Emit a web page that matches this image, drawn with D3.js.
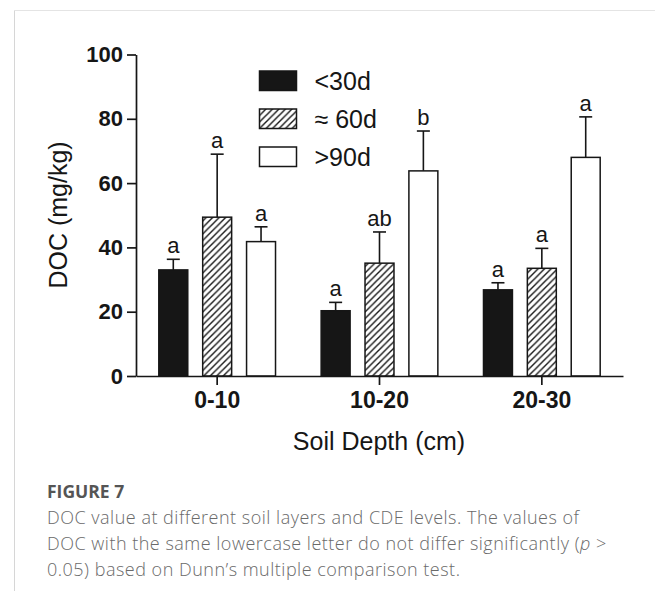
<!DOCTYPE html>
<html>
<head>
<meta charset="utf-8">
<script src="https://cdn.jsdelivr.net/npm/d3@7"></script>
<style>
  body { margin: 0; background: #fff; }
  svg text { font-family: "Liberation Sans", Arial, sans-serif; }
  svg text.cap { font-family: "Open Sans", "Noto Sans", sans-serif; }
</style>
</head>
<body>
<svg id="chart"></svg>
<script>
// data
const categories = ["0-10", "10-20", "20-30"];
const groups = ["<30d", "≈ 60d", ">90d"];
const means = [
  [33.0, 20.3, 26.8],
  [49.4, 35.1, 33.5],
  [41.8, 63.8, 68.0],
];
const errors = [
  [3.3, 2.6, 2.2],
  [19.6, 9.7, 6.2],
  [4.6, 12.4, 12.6],
];
const letters = [
  ["a", "a", "a"],
  ["a", "ab", "a"],
  ["a", "b", "a"],
];
const yTicks = [0, 20, 40, 60, 80, 100];
const captionTitle = "FIGURE 7";
const captionLines = [
  "DOC value at different soil layers and CDE levels. The values of",
  "DOC with the same lowercase letter do not differ significantly (",
  "0.05) based on Dunn\u2019s multiple comparison test.",
];

const width = 655, height = 591;
const ink = "#161616";

const svg = d3.select("#chart").attr("width", width).attr("height", height);

// hatch pattern
const defs = svg.append("defs");
const pat = defs.append("pattern")
  .attr("id", "hatch")
  .attr("patternUnits", "userSpaceOnUse")
  .attr("width", 6.5).attr("height", 6.5);
pat.append("rect").attr("width", 6.5).attr("height", 6.5).attr("fill", "#fff");
pat.append("path")
  .attr("d", "M-1,1 l2,-2 M0,6.5 l6.5,-6.5 M5.5,7.5 l2,-2")
  .attr("stroke", ink).attr("stroke-width", 1.4);

const fills = [ink, "url(#hatch)", "#fff"];

// page frame lines
svg.append("line").attr("x1", 14.5).attr("x2", 14.5).attr("y1", 10).attr("y2", height)
  .attr("stroke", "#d6d6d6");
svg.append("line").attr("x1", 14).attr("x2", width).attr("y1", 10.5).attr("y2", 10.5)
  .attr("stroke", "#e4e4e4");

const x0 = d3.scaleBand().domain(categories).range([136, 623]);
const x1 = d3.scaleBand().domain(groups).range([0, x0.bandwidth()])
  .paddingInner(0.34).paddingOuter(0.52);
const y = d3.scaleLinear().domain([0, 100]).range([376, 54.5]);

// bars
const g = svg.append("g");
groups.forEach((grp, gi) => {
  const sel = g.append("g").selectAll("g").data(categories).enter().append("g")
    .attr("transform", (c) => `translate(${x0(c) + x1(grp)},0)`);
  const bw = x1.bandwidth();
  sel.append("line")
    .attr("x1", bw / 2).attr("x2", bw / 2)
    .attr("y1", (c, i) => y(means[gi][i]))
    .attr("y2", (c, i) => y(means[gi][i] + errors[gi][i]))
    .attr("stroke", ink).attr("stroke-width", 1.6);
  sel.append("line")
    .attr("x1", bw / 2 - 6.5).attr("x2", bw / 2 + 6.5)
    .attr("y1", (c, i) => y(means[gi][i] + errors[gi][i]))
    .attr("y2", (c, i) => y(means[gi][i] + errors[gi][i]))
    .attr("stroke", ink).attr("stroke-width", 1.6);
  sel.append("rect")
    .attr("x", 0).attr("width", bw)
    .attr("y", (c, i) => y(means[gi][i]))
    .attr("height", (c, i) => y(0) - y(means[gi][i]))
    .attr("fill", fills[gi]).attr("stroke", ink).attr("stroke-width", 1.5);
  sel.append("text")
    .attr("x", bw / 2)
    .attr("y", (c, i) => y(means[gi][i] + errors[gi][i]) - 6)
    .attr("text-anchor", "middle")
    .attr("font-size", 22).attr("fill", ink)
    .text((c, i) => letters[gi][i]);
});

// axes
const yAxis = svg.append("g").attr("transform", "translate(136,0)")
  .call(d3.axisLeft(y).tickValues(yTicks).tickSize(9).tickPadding(4).tickSizeOuter(0));
yAxis.selectAll("text").attr("font-size", 22).attr("font-weight", "bold").attr("fill", ink)
  .attr("font-family", "Liberation Sans, Arial, sans-serif");

const xAxis = svg.append("g").attr("transform", "translate(0,376)")
  .call(d3.axisBottom(x0).tickSize(9).tickPadding(7).tickSizeOuter(0));
xAxis.selectAll("text").attr("font-size", 23).attr("font-weight", "bold").attr("fill", ink)
  .attr("font-family", "Liberation Sans, Arial, sans-serif");

[yAxis, xAxis].forEach((ax) => {
  ax.select(".domain").attr("stroke", ink).attr("stroke-width", 1.7);
  ax.selectAll(".tick line").attr("stroke", ink).attr("stroke-width", 1.7);
});

// axis titles
svg.append("text")
  .attr("transform", "translate(66.5,215) rotate(-90)")
  .attr("text-anchor", "middle").attr("font-size", 25).attr("fill", ink)
  .text("DOC (mg/kg)");
svg.append("text")
  .attr("x", 379).attr("y", 449.5)
  .attr("text-anchor", "middle").attr("font-size", 25).attr("fill", ink)
  .text("Soil Depth (cm)");

// legend
const legend = svg.append("g").selectAll("g").data(groups).enter().append("g")
  .attr("transform", (d, i) => `translate(259.5,${71 + i * 38})`);
legend.append("rect")
  .attr("width", 37).attr("height", 19.5)
  .attr("fill", (d, i) => fills[i]).attr("stroke", ink).attr("stroke-width", 1.5);
legend.append("text")
  .attr("x", 55).attr("y", 18.5)
  .attr("font-size", 25).attr("fill", ink)
  .text((d) => d);

// caption
svg.append("text").attr("class", "cap")
  .attr("x", 47).attr("y", 497.5)
  .attr("font-size", 17.5).attr("font-weight", "bold").attr("fill", "#555")
  .text(captionTitle);
const cap = svg.append("g").selectAll("text").data(captionLines).enter().append("text")
  .attr("class", "cap")
  .attr("x", 47).attr("y", (d, i) => 523.5 + i * 26.3)
  .attr("font-size", 18).attr("letter-spacing", 0.5).attr("font-weight", 300).attr("fill", "#6a6a6a")
  .text((d) => d);
cap.filter((d, i) => i === 1).append("tspan").attr("font-style", "italic").text("p");
cap.filter((d, i) => i === 1).append("tspan").text(" >");
</script>
</body>
</html>
